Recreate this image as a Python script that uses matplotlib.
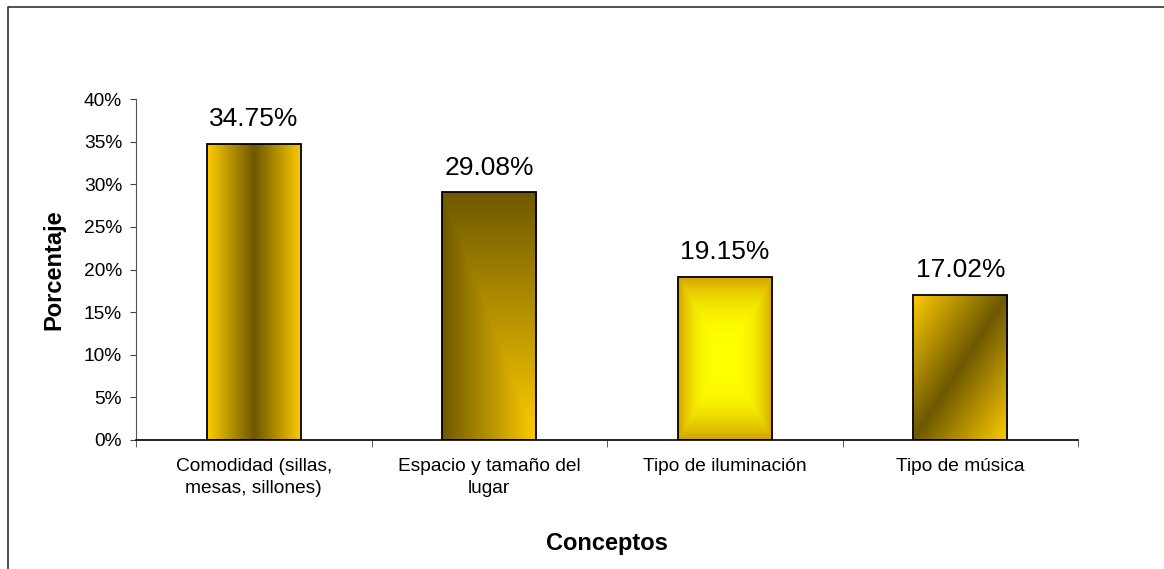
import matplotlib.pyplot as plt
import numpy as np
from matplotlib.ticker import FuncFormatter
from matplotlib.lines import Line2D

# Data
categorias = ["Comodidad (sillas,\nmesas, sillones)", "Espacio y tamaño del\nlugar",
              "Tipo de iluminación", "Tipo de música"]
porcentajes = [0.3475, 0.2908, 0.1915, 0.1702]
etiquetas = ["34.75%", "29.08%", "19.15%", "17.02%"]

plt.rcParams['font.family'] = ['Liberation Sans', 'DejaVu Sans']

W, H = 1164, 569
fig = plt.figure(figsize=(W / 100, H / 100), dpi=100)
ax = fig.add_axes([136 / W, 1 - 440 / H, 942 / W, 341 / H])

dark = np.array([0x6E, 0x58, 0x00]) / 255
gold = np.array([0xFF, 0xCC, 0x00]) / 255
bright = np.array([0xFF, 0xFF, 0x00]) / 255
edge3 = np.array([0xD2, 0xA0, 0x00]) / 255

n = 200
xx, vv = np.meshgrid(np.linspace(0, 1, n), np.linspace(1, 0, n))  # vv: 1 top, 0 bottom


def mix(c0, c1, t):
    t = np.clip(t, 0, 1)[..., None]
    return c0 * (1 - t) + c1 * t


# gradient fills, one per bar
grads = [
    mix(dark, gold, np.abs(xx - 0.5) * 2),                      # vertical stripe
    mix(gold, dark, np.maximum(1 - xx, vv)),                    # corner
    mix(bright, edge3, np.maximum(np.abs(xx - 0.5) * 2, np.abs(vv - 0.5) * 2) ** 3),  # from center
    mix(dark, gold, np.abs(xx - vv)),                           # diagonal stripe
]

bars = ax.bar(range(len(categorias)), porcentajes, width=0.4,
              facecolor='none', edgecolor='black', linewidth=1.3, zorder=3)

for b, g in zip(bars, grads):
    x0, y0 = b.get_x(), b.get_y()
    im = ax.imshow(g, extent=[x0, x0 + b.get_width(), y0, y0 + b.get_height()],
                   aspect='auto', zorder=2, interpolation='bilinear')
    im.set_clip_path(b)

for i, (v, lab) in enumerate(zip(porcentajes, etiquetas)):
    ax.annotate(lab, (i, v), xytext=(0, 9), textcoords='offset points',
                ha='center', va='bottom', fontsize=19)

ax.set_xlim(-0.5, 3.5)
ax.set_ylim(0, 0.40)
ax.set_yticks(np.arange(0, 0.401, 0.05))
ax.yaxis.set_major_formatter(FuncFormatter(lambda v, p: f"{v * 100:.0f}%"))
ax.set_xticks(range(len(categorias)))
ax.set_xticklabels(categorias, linespacing=1.4)
ax.set_xticks(np.arange(-0.5, 3.6, 1), minor=True)
ax.tick_params(axis='x', which='major', length=0, pad=13, labelsize=13.8)
ax.tick_params(axis='x', which='minor', length=5, direction='out', color='#444444')
ax.tick_params(axis='y', length=4, pad=6, labelsize=13.8, color='#444444')

for s in ['top', 'right']:
    ax.spines[s].set_visible(False)
ax.spines['left'].set_color('#555555')
ax.spines['bottom'].set_color('black')
ax.spines['bottom'].set_linewidth(1.2)

ax.set_ylabel("Porcentaje", fontsize=17, fontweight='bold')
ax.yaxis.set_label_coords(-0.075, 0.5)
ax.set_xlabel("Conceptos", fontsize=17, fontweight='bold')
ax.xaxis.set_label_coords(0.5, -0.27)

# outer chart border (left and top visible)
fig.add_artist(Line2D([8 / W, 8 / W, 1.0], [0.0, 1 - 7 / H, 1 - 7 / H],
                      transform=fig.transFigure, color='#333333', linewidth=1.2))

fig.savefig("out.png", dpi=100)
